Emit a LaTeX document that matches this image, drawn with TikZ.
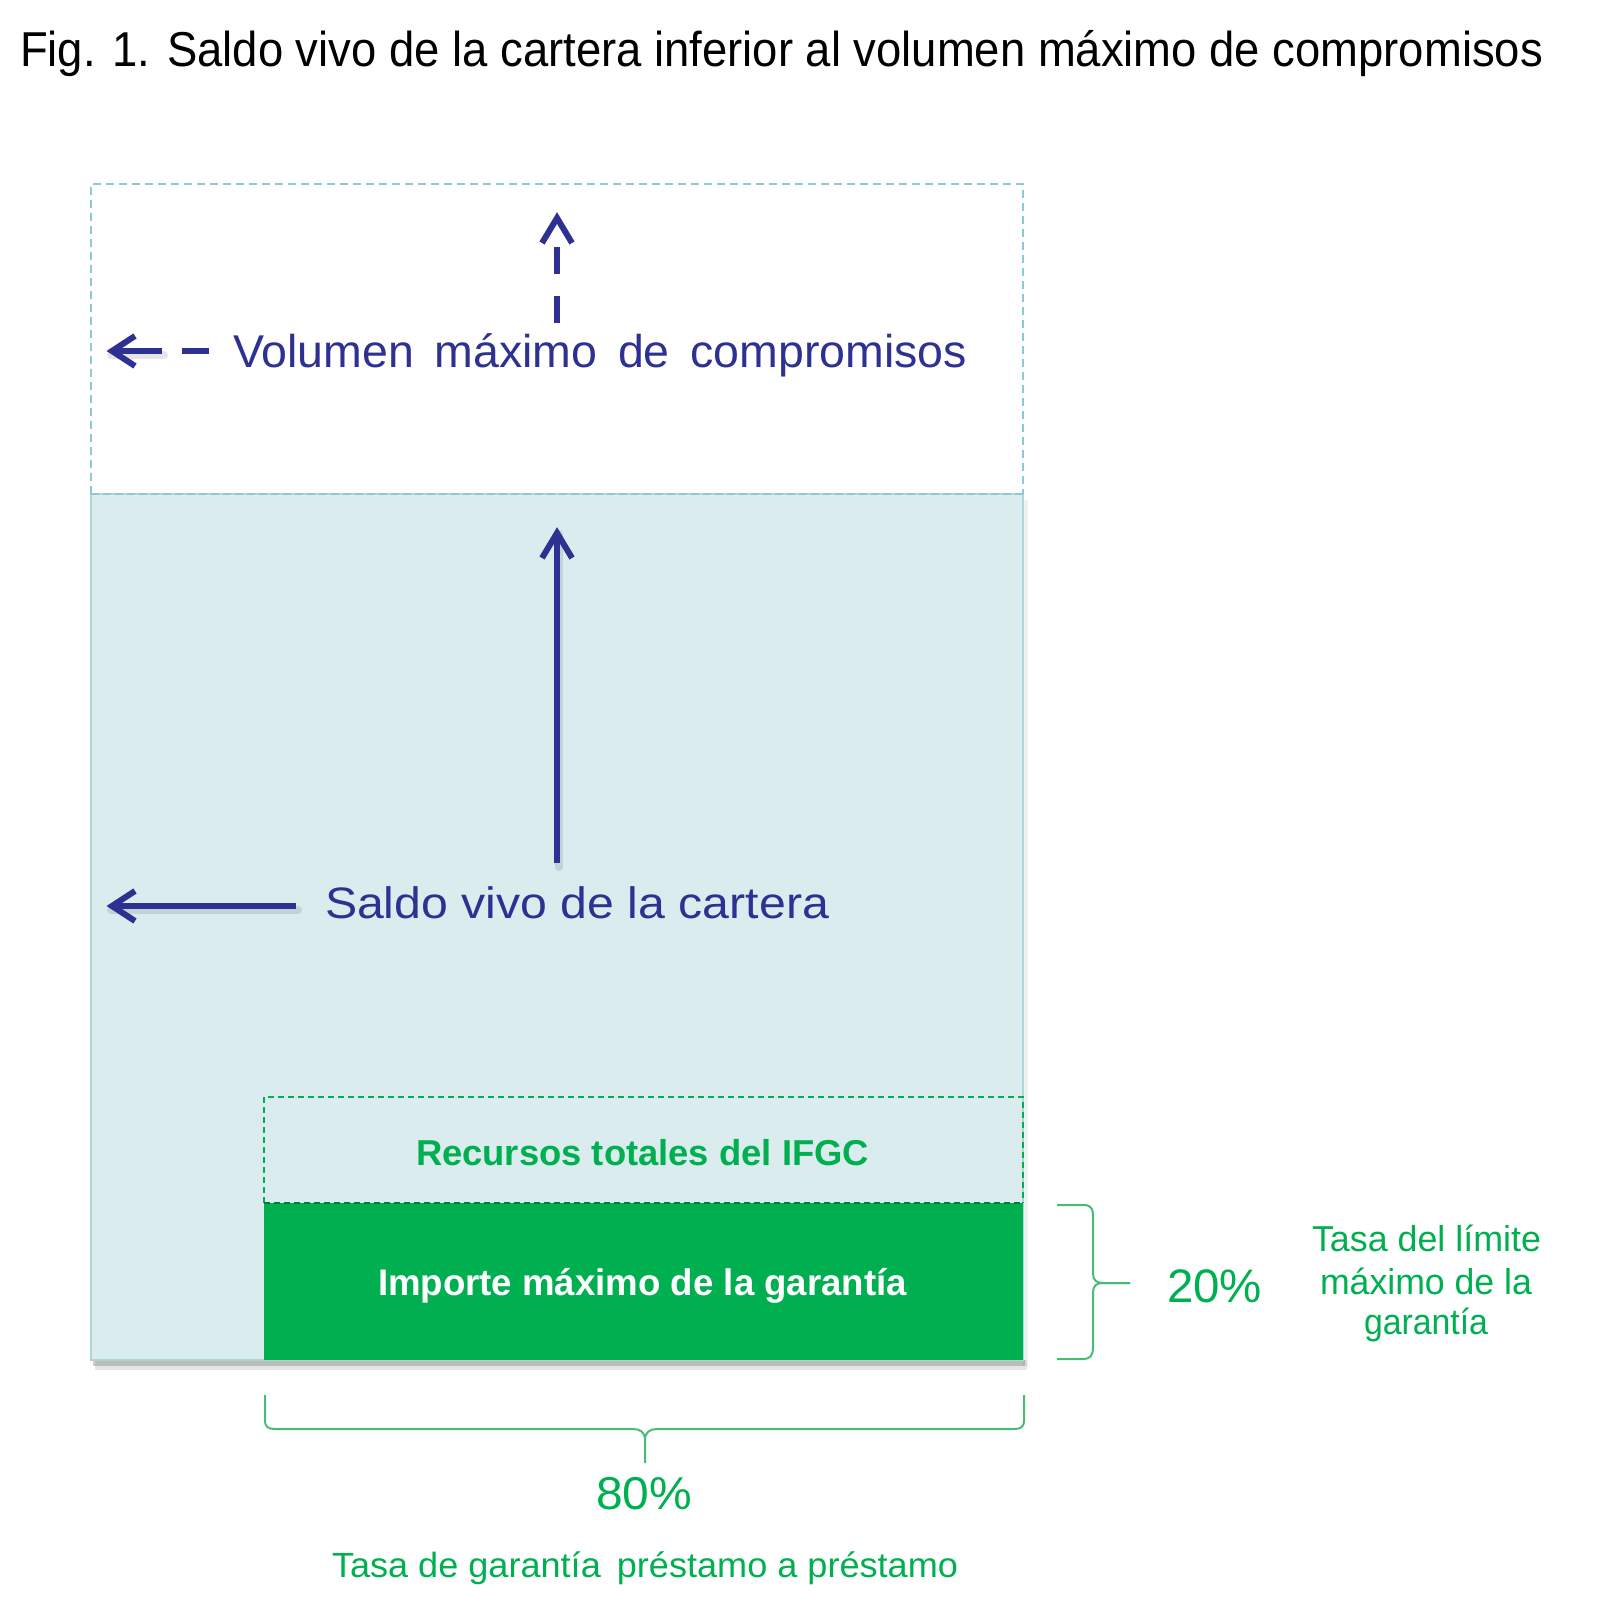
\documentclass[tikz,border=0pt]{standalone}
\usepackage{fontspec}
\setmainfont{Liberation Sans}
\usepackage{graphicx}
\definecolor{navy}{RGB}{46,49,146}
\definecolor{lightfill}{RGB}{218,236,238}
\definecolor{tealdash}{RGB}{140,202,206}
\definecolor{edgeteal}{RGB}{172,214,218}
\definecolor{grn}{RGB}{0,176,80}
\definecolor{bracegrn}{RGB}{70,188,118}
\newcommand{\fitw}[2]{\resizebox{#1pt}{\height}{#2}}
\tikzset{
  txt/.style={anchor=base west, inner sep=0pt, outer sep=0pt},
  navyline/.style={draw=navy, line width=6pt},
  navyhead/.style={draw=navy, line width=6pt, line join=miter},
  arrowshadow/.style={draw=black, opacity=0.10, line width=8pt, line cap=round},
  bracestyle/.style={draw=bracegrn, line width=2pt}
}
\begin{document}
\begin{tikzpicture}[x=1pt,y=-1pt]
\useasboundingbox (0,0) rectangle (1604,1621);
% title
\node[txt] (title) at (20,67) {\fontsize{49}{59}\selectfont\fitw{1523}{Fig. 1. Saldo vivo de la cartera inferior al volumen máximo de compromisos}};

% lower filled region with shadow
\fill[black,opacity=0.10] (95,1360) rectangle (1027,1370);
\fill[black,opacity=0.18] (93,1360) rectangle (1025,1366);
\fill[black,opacity=0.06] (1023,500) rectangle (1028,1366);
\filldraw[fill=lightfill, draw=edgeteal, line width=2pt] (91,494) rectangle (1023,1360);
% upper dashed region
\draw[tealdash, line width=2pt, dash pattern=on 8pt off 5pt] (91,494) -- (91,184) -- (1023,184) -- (1023,494);
\draw[tealdash, line width=2.5pt, dash pattern=on 8pt off 4pt] (91,494) -- (1023,494);

% green boxes
\draw[grn, line width=2pt, dash pattern=on 6pt off 4pt] (264,1203) -- (264,1097) -- (1023,1097) -- (1023,1203);
\fill[grn] (264,1203) rectangle (1023,1360);
\draw[grn!70!black, line width=2pt, dash pattern=on 6pt off 4pt] (264,1203) -- (1023,1203);

% arrow coordinates
\coordinate (vTopS) at (557,323);
\coordinate (vTopD) at (557,247);
\coordinate (vTopE) at (557,215);
\coordinate (hTopS) at (209,351);
\coordinate (hTopG) at (182,351);
\coordinate (hTopD) at (162,351);
\coordinate (hTopE) at (109,351);
\coordinate (vBotS) at (557,863);
\coordinate (vBotE) at (557,530);
\coordinate (hBotS) at (296,906);
\coordinate (hBotE) at (109,906);

% arrow shadows
\draw[arrowshadow] ([shift={(2,4)}]vBotS) -- ([shift={(2,4)}]vBotE);
\draw[arrowshadow] ([shift={(2,4)}]hBotS) -- ([shift={(2,4)}]hBotE);
\draw[arrowshadow] ([shift={(2,4)}]hTopD) -- ([shift={(2,4)}]hTopE);

% dashed arrows (Volumen)
\draw[navyline, dash pattern=on 27pt off 22pt] (vTopS) -- (vTopD);
\draw[navyhead] ([shift={(-15,28)}]vTopE) -- ([shift={(0,3)}]vTopE) -- ([shift={(15,28)}]vTopE);
\draw[navyline] (hTopS) -- (hTopG);
\draw[navyline] (hTopD) -- ([shift={(3,0)}]hTopE);
\draw[navyhead] ([shift={(26,-15)}]hTopE) -- ([shift={(3,0)}]hTopE) -- ([shift={(26,15)}]hTopE);

% solid arrows (Saldo)
\draw[navyline] (vBotS) -- ([shift={(0,3)}]vBotE);
\draw[navyhead] ([shift={(-15,28)}]vBotE) -- ([shift={(0,3)}]vBotE) -- ([shift={(15,28)}]vBotE);
\draw[navyline] (hBotS) -- ([shift={(3,0)}]hBotE);
\draw[navyhead] ([shift={(26,-15)}]hBotE) -- ([shift={(3,0)}]hBotE) -- ([shift={(26,15)}]hBotE);

% labels
\node[txt, text=navy] (vol) at (233,367) {\fontsize{46}{55}\selectfont\fitw{734}{Volumen\, máximo\, de\, compromisos}};
\node[txt, text=navy] (saldo) at (325,918) {\fontsize{44}{53}\selectfont\fitw{504}{Saldo vivo de la cartera}};
\node[txt, text=grn] (recursos) at (416,1165) {\fontsize{36}{43}\selectfont\bfseries\fitw{453}{Recursos totales del IFGC}};
\node[txt, text=white] (importe) at (378,1295) {\fontsize{37}{44}\selectfont\bfseries\fitw{529}{Importe máximo de la garantía}};

% right brace
\draw[bracestyle] (1057,1205) -- (1083,1205) .. controls (1093,1205) and (1093,1210) .. (1093,1220) -- (1093,1273) .. controls (1093,1280) and (1096,1283) .. (1103,1283) -- (1130,1283);
\draw[bracestyle] (1130,1283) -- (1103,1283) .. controls (1096,1283) and (1093,1286) .. (1093,1293) -- (1093,1347) .. controls (1093,1356) and (1090,1359) .. (1083,1359) -- (1057,1359);
\node[txt, text=grn] (p20) at (1167,1302) {\fontsize{47}{56}\selectfont\fitw{95}{20\%}};
\node[txt, text=grn] (t1) at (1312,1251) {\fontsize{36}{43}\selectfont\fitw{229}{Tasa del límite}};
\node[txt, text=grn] (t2) at (1320,1294) {\fontsize{36}{43}\selectfont\fitw{212}{máximo de la}};
\node[txt, text=grn] (t3) at (1364,1334) {\fontsize{36}{43}\selectfont\fitw{124}{garantía}};

% bottom brace
\draw[bracestyle] (265,1395) -- (265,1420) .. controls (265,1427) and (268,1429) .. (275,1429) -- (633,1429) .. controls (640,1429) and (645,1432) .. (645,1440) -- (645,1463);
\draw[bracestyle] (645,1440) .. controls (645,1432) and (650,1429) .. (657,1429) -- (1014,1429) .. controls (1021,1429) and (1024,1427) .. (1024,1420) -- (1024,1395);
\node[txt, text=grn] (p80) at (596,1509) {\fontsize{46}{55}\selectfont\fitw{96}{80\%}};
\node[txt, text=grn] (tasa) at (332,1577) {\fontsize{35}{42}\selectfont\fitw{626}{Tasa de garantía\, préstamo a préstamo}};
\end{tikzpicture}
\end{document}
